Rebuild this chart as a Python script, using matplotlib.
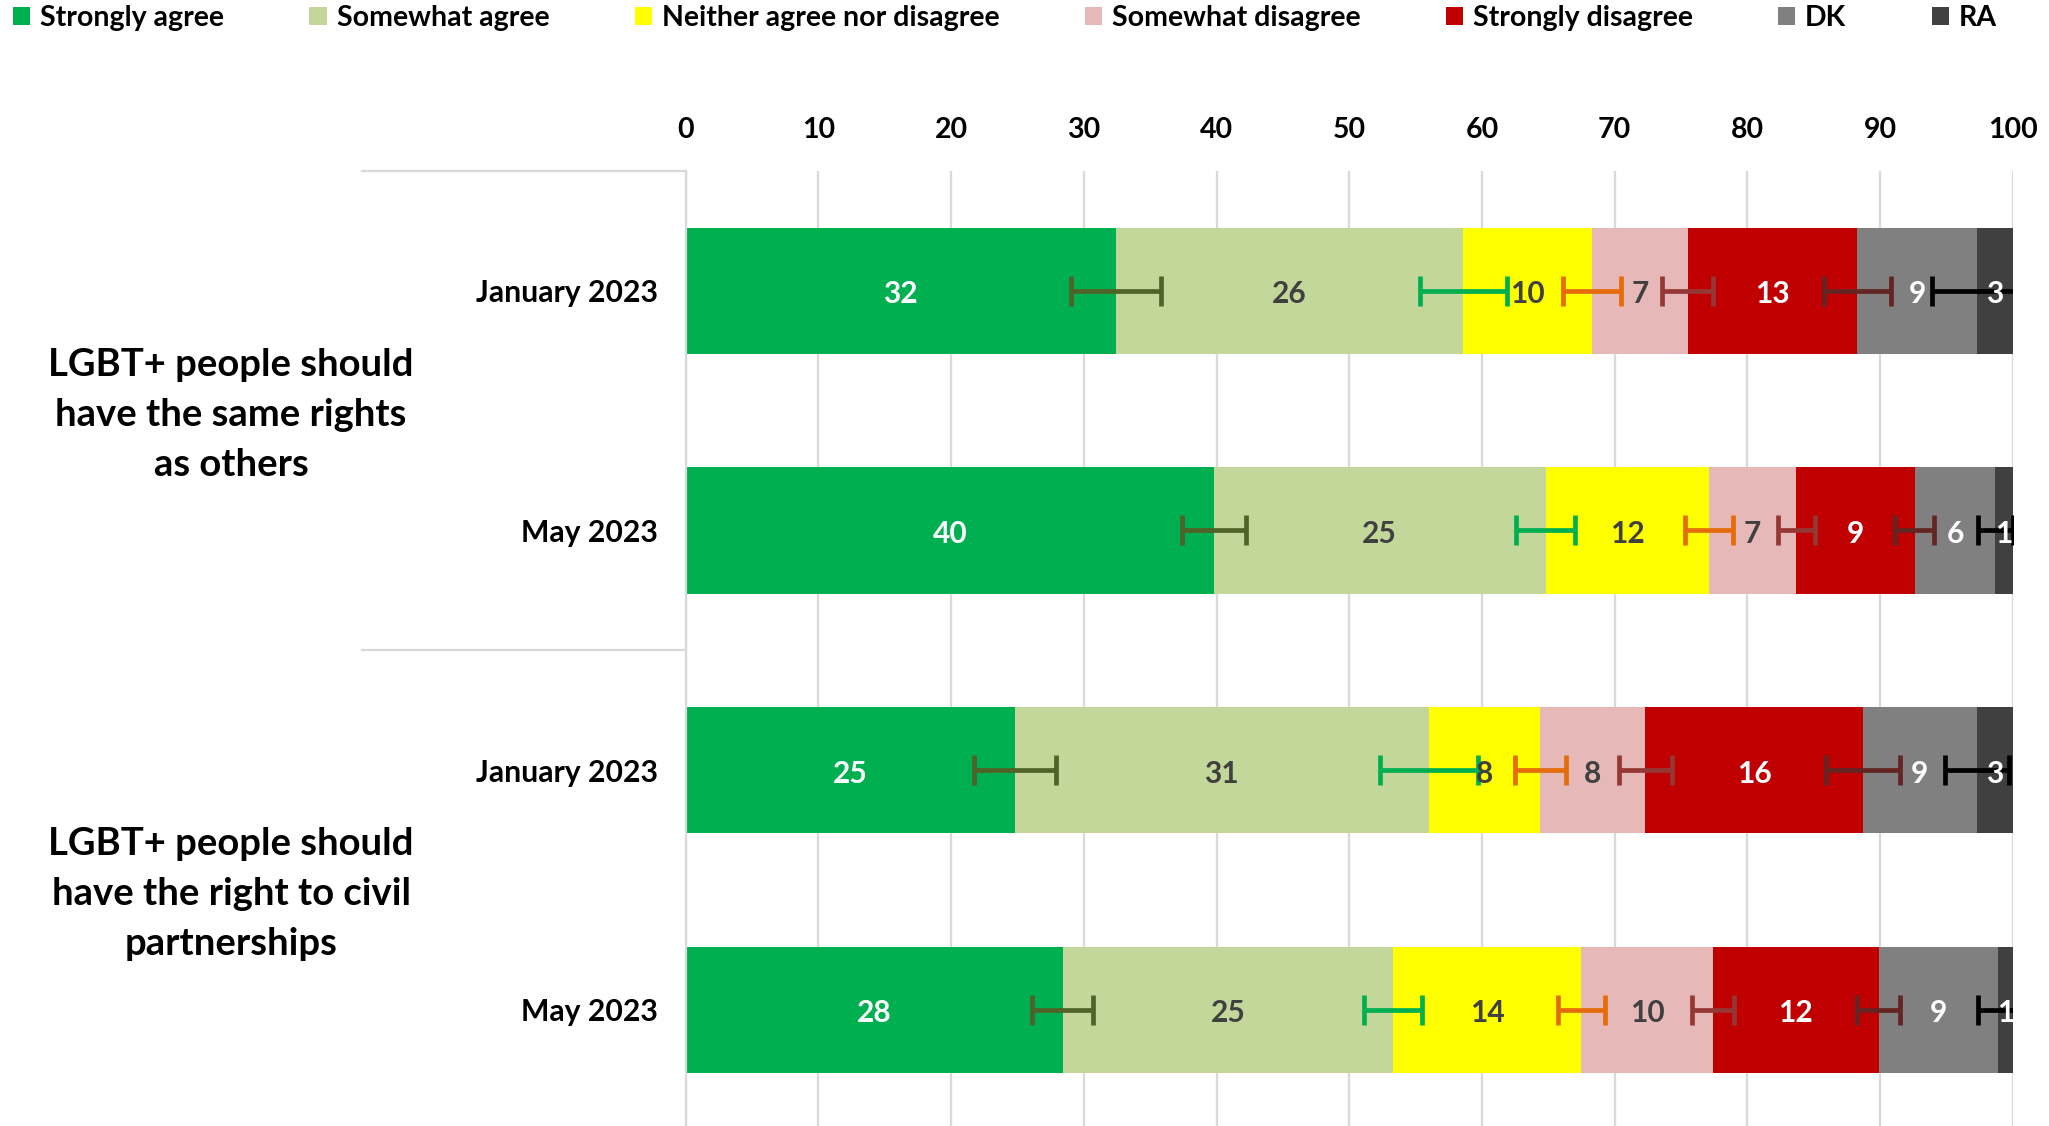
import matplotlib
matplotlib.use("Agg")
import matplotlib.pyplot as plt
import numpy as np
from matplotlib.transforms import blended_transform_factory
from matplotlib.lines import Line2D
from matplotlib.patches import Patch

plt.rcParams['font.family'] = ['Lato', 'DejaVu Sans']
plt.rcParams['font.weight'] = 'bold'

# ---------------- data ----------------
row_labels = ["January 2023", "May 2023", "January 2023", "May 2023"]
group_labels = ["LGBT+ people should\nhave the same rights\nas others",
                "LGBT+ people should\nhave the right to civil\npartnerships"]
series_names = ["Strongly agree", "Somewhat agree", "Neither agree nor disagree",
                "Somewhat disagree", "Strongly disagree", "DK", "RA"]

strongly_agree = [32.4, 39.8, 24.8, 28.4]
somewhat_agree = [26.2, 25.0, 31.2, 24.9]
neither = [9.7, 12.3, 8.4, 14.2]
somewhat_disagree = [7.2, 6.6, 7.9, 9.9]
strongly_disagree = [12.8, 8.9, 16.4, 12.5]
dk = [9.0, 6.1, 8.6, 9.0]
ra = [2.7, 1.3, 2.7, 1.1]

# error margins (+/-) shown at the end of each segment
err_strongly_agree = [3.4, 2.4, 3.1, 2.3]
err_somewhat_agree = [3.3, 2.2, 3.7, 2.2]
err_neither = [2.2, 1.8, 1.9, 1.8]
err_somewhat_disagree = [1.9, 1.4, 2.0, 1.6]
err_strongly_disagree = [2.5, 1.5, 2.8, 1.6]
err_dk = [3.4, 1.3, 2.4, 1.5]

xticks = list(range(0, 101, 10))

# ---------------- styling ----------------
colors = ["#00B050", "#C4D79B", "#FFFF00", "#E6B9B8", "#C00000", "#808080", "#404040"]
label_colors = ["white", "#404040", "#404040", "#404040", "white", "white", "white"]
err_colors = ["#4F6228", "#00B050", "#E46C0A", "#953735", "#632523", "#000000"]
grid_color = "#D9D9D9"

series = [strongly_agree, somewhat_agree, neither, somewhat_disagree,
          strongly_disagree, dk, ra]
errors = [err_strongly_agree, err_somewhat_agree, err_neither,
          err_somewhat_disagree, err_strongly_disagree, err_dk]

W, H = 2049, 1126
fig = plt.figure(figsize=(W / 100, H / 100), dpi=100)
ax = fig.add_axes([685.7 / W, 0.0, (2012.7 - 685.7) / W, 1 - 171.0 / H])

y = np.arange(len(row_labels))
bar_h = 0.526
left = np.zeros(len(row_labels))
ends = []
for vals, col in zip(series, colors):
    v = np.array(vals)
    ax.barh(y, v, left=left, height=bar_h, color=col, edgecolor='none', zorder=2)
    ends.append(left + v)
    left = left + v

# error bars at segment ends
for k, (errs, ec) in enumerate(zip(errors, err_colors)):
    ax.errorbar(ends[k], y, xerr=np.array(errs), fmt='none', ecolor=ec,
                elinewidth=3.4, capsize=11, capthick=3.4, zorder=3)

# data labels
left = np.zeros(len(row_labels))
for vals, lc in zip(series, label_colors):
    v = np.array(vals)
    for yi, (l, vv) in enumerate(zip(left, v)):
        ax.annotate(f"{vv:.0f}", (l + vv / 2, yi), xytext=(0, -2.5),
                    textcoords='offset points', ha='center', va='center',
                    color=lc, fontsize=21.5, fontweight='bold', zorder=5)
    left = left + v

ax.set_xlim(0, 100)
ax.set_ylim(3.485, -0.5)
ax.xaxis.tick_top()
ax.set_xticks(xticks)
ax.set_xticklabels([str(t) for t in xticks], fontsize=20.5, fontweight='bold')
ax.tick_params(axis='x', length=0, pad=20)
ax.set_yticks(y)
ax.set_yticklabels(row_labels, fontsize=21.7, fontweight='bold')
ax.tick_params(axis='y', length=0, pad=20)
ax.grid(axis='x', color=grid_color, linewidth=1.6, zorder=0)
ax.set_axisbelow(True)
for s in ['top', 'right', 'bottom']:
    ax.spines[s].set_visible(False)
ax.spines['left'].set_color(grid_color)
ax.spines['left'].set_linewidth(1.6)

# group labels and separators
trans = blended_transform_factory(fig.transFigure, ax.transData)
for gi, gl in enumerate(group_labels):
    ax.annotate(gl, (231 / W, 2 * gi + 0.5), xycoords=trans, xytext=(0, -3),
                textcoords='offset points', ha='center', va='center',
                fontsize=27.5, fontweight='bold', linespacing=1.58,
                annotation_clip=False)
for yy in [-0.5, 1.5]:
    ax.add_line(Line2D([362 / W, 685.7 / W], [yy, yy], transform=trans,
                       color=grid_color, linewidth=1.6, clip_on=False))

# legend
handles = [Patch(facecolor=c, edgecolor='none') for c in colors]
fig.legend(handles, series_names, loc='center left', bbox_to_anchor=(13 / W, 1 - 18 / H),
           ncol=7, frameon=False, handlelength=0.6, handleheight=0.6,
           handletextpad=0.35, columnspacing=3.0, borderpad=0, borderaxespad=0,
           prop={'weight': 'bold', 'size': 20.5})

fig.savefig("out.png", dpi=100)
